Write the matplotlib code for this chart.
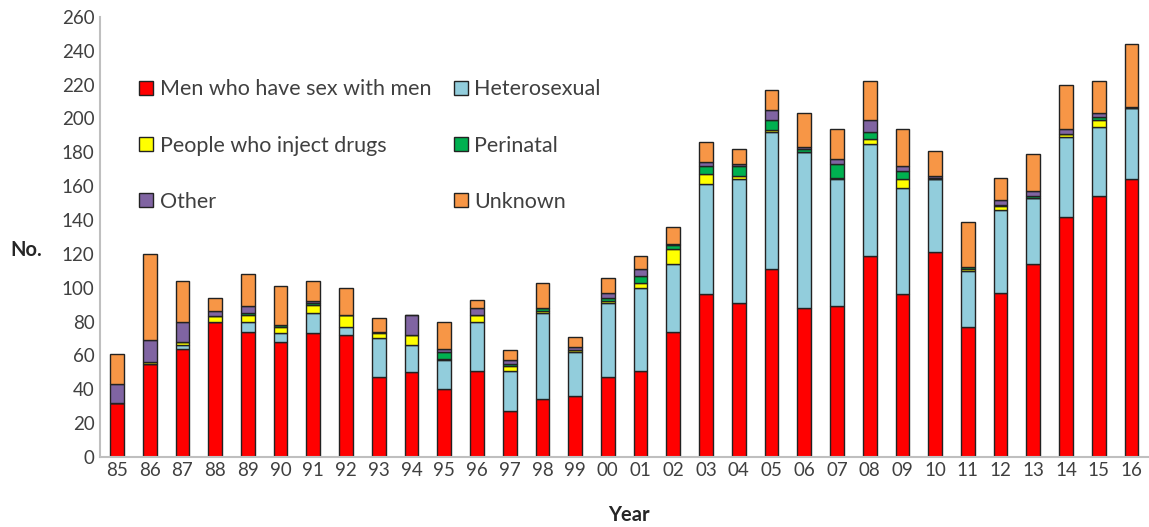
import matplotlib.pyplot as plt
import numpy as np

years = ['85', '86', '87', '88', '89', '90', '91', '92', '93', '94', '95', '96', '97', '98', '99', '00',
         '01', '02', '03', '04', '05', '06', '07', '08', '09', '10', '11', '12', '13', '14', '15', '16']

msm = [32, 55, 64, 80, 74, 68, 73, 72, 47, 50, 40, 51, 27, 34, 36, 47,
       51, 74, 96, 91, 111, 88, 89, 119, 96, 121, 77, 97, 114, 142, 154, 164]
het = [0, 0, 2, 0, 6, 5, 12, 5, 23, 16, 17, 29, 24, 51, 26, 44,
       49, 40, 65, 73, 81, 92, 75, 66, 63, 43, 33, 49, 39, 47, 41, 42]
pwid = [0, 1, 2, 3, 4, 4, 5, 7, 3, 6, 1, 4, 3, 1, 1, 1,
        3, 9, 6, 2, 1, 0, 1, 3, 5, 0, 1, 2, 0, 2, 4, 0]
peri = [0, 0, 0, 0, 1, 1, 1, 0, 1, 0, 4, 0, 1, 2, 0, 2,
        4, 2, 5, 6, 6, 2, 8, 4, 5, 1, 1, 1, 1, 0, 2, 1]
other = [11, 13, 12, 3, 4, 0, 1, 0, 0, 12, 2, 4, 2, 0, 2, 3,
         4, 1, 2, 1, 6, 1, 3, 7, 3, 1, 0, 3, 3, 3, 2, 0]
unknown = [18, 51, 24, 8, 19, 23, 12, 16, 8, 0, 16, 5, 6, 15, 6, 9,
           8, 10, 12, 9, 12, 20, 18, 23, 22, 15, 27, 13, 22, 26, 19, 37]

labels = ['Men who have sex with men', 'Heterosexual', 'People who inject drugs',
          'Perinatal', 'Other', 'Unknown']
colors = ['#FF0000', '#92CDDC', '#FFFF00', '#00B050', '#8064A2', '#F79646']
series = [msm, het, pwid, peri, other, unknown]

plt.rcParams['font.family'] = ['Lato', 'DejaVu Sans']

fig = plt.figure(figsize=(11.49, 5.27), dpi=100)
ax = fig.add_axes([0.087, 0.133, 0.912, 0.835])

x = np.arange(len(years))
bottom = np.zeros(len(years))
bars = []
for vals, lab, col in zip(series, labels, colors):
    b = ax.bar(x, vals, width=0.42, bottom=bottom, color=col, edgecolor='#222222',
               linewidth=1.0, label=lab)
    bars.append(b)
    bottom += np.array(vals)

ax.set_xlim(-0.52, 31.5)
ax.set_ylim(0, 260)
ax.set_yticks(range(0, 261, 20))
ax.set_xticks(x)
ax.set_xticklabels(years)
ax.tick_params(length=0, labelsize=13.5, labelcolor='#404040', pad=4)

for s in ['top', 'right']:
    ax.spines[s].set_visible(False)
for s in ['left', 'bottom']:
    ax.spines[s].set_color('#BFBFBF')
    ax.spines[s].set_linewidth(1.5)

fig.text(0.009, 0.525, 'No.', fontsize=14.5, fontweight='bold', color='#262626', va='center')
fig.text(0.547, 0.022, 'Year', fontsize=14.5, fontweight='bold', color='#262626',
         ha='center', va='center')

# legend order: column-wise fill
order = [0, 2, 4, 1, 3, 5]
leg = ax.legend([bars[i] for i in order], [labels[i] for i in order], ncol=2,
                loc='upper left', bbox_to_anchor=(0.019, 0.902), frameon=False,
                fontsize=15.5, handlelength=0.65, handleheight=0.65,
                handletextpad=0.3, labelspacing=1.68, columnspacing=1.05,
                labelcolor='#404040')
for h in leg.legend_handles:
    h.set_linewidth(1.0)

plt.savefig('out.png', dpi=100)
